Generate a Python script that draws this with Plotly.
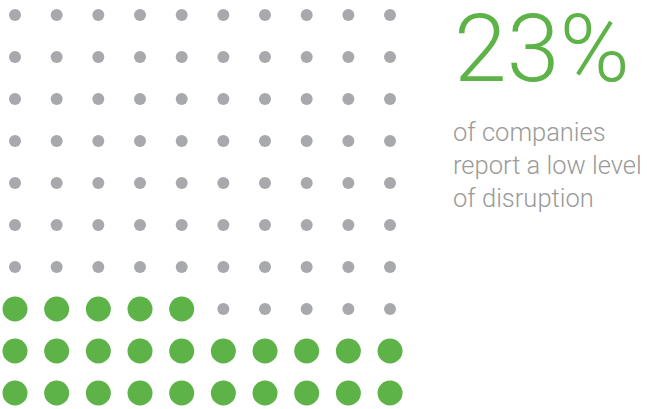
import plotly.graph_objects as go

# Waffle grid: 10 x 10 cells, highlighted cells per row (top to bottom)
n_cols = 10
n_rows = 10
highlighted_per_row = [0, 0, 0, 0, 0, 0, 0, 5, 10, 10]

headline = "23%"
caption_lines = ["of companies", "report a low level", "of disruption"]

green = "#5db347"
grey = "#a8a9ad"

gx, gy, hx, hy = [], [], [], []
for r in range(n_rows):
    for c in range(n_cols):
        if c < highlighted_per_row[r]:
            hx.append(c)
            hy.append(r)
        else:
            gx.append(c)
            gy.append(r)

fig = go.Figure()
fig.add_trace(go.Scatter(x=gx, y=gy, mode="markers",
                         marker=dict(size=12, color=grey, line=dict(width=0)),
                         hoverinfo="skip"))
fig.add_trace(go.Scatter(x=hx, y=hy, mode="markers",
                         marker=dict(size=25, color=green, line=dict(width=0)),
                         hoverinfo="skip"))

W, H = 647, 409
col_step, row_step = 41.67, 42.0
x0_px, y0_px = 15, 15
x_lo = -x0_px / col_step
y_lo = -y0_px / row_step

fig.add_annotation(text=headline, xref="paper", yref="paper",
                   x=452 / W, y=1 - 49 / H, xanchor="left", yanchor="middle",
                   showarrow=False,
                   font=dict(family="Roboto", size=95, color=green, weight=300))
fig.add_annotation(text="<br>".join(caption_lines), xref="paper", yref="paper",
                   x=451 / W, y=1 - 115 / H, xanchor="left", yanchor="top",
                   align="left", showarrow=False,
                   font=dict(family="Roboto", size=25.5, color="#9a9a9a", weight=300))

fig.update_layout(
    width=W, height=H,
    margin=dict(l=0, r=0, t=0, b=0),
    paper_bgcolor="white", plot_bgcolor="white",
    showlegend=False,
    xaxis=dict(range=[x_lo, x_lo + W / col_step], visible=False, fixedrange=True),
    yaxis=dict(range=[y_lo + H / row_step, y_lo], visible=False, fixedrange=True),
)

fig.write_html("out.html", config={"displayModeBar": False})
